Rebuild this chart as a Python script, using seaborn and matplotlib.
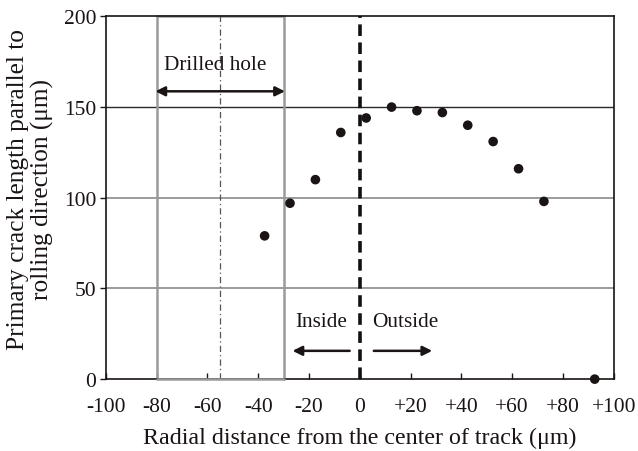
import matplotlib
matplotlib.use("Agg")
import matplotlib.pyplot as plt
import seaborn as sns
import pandas as pd

# Data
radial_distance = [-37.5, -27.5, -17.5, -7.5, 2.5, 12.5, 22.5, 32.5, 42.5, 52.5, 62.5, 72.5, 92.5]
crack_length = [79, 97, 110, 136, 144, 150, 148, 147, 140, 131, 116, 98, 0]
x_ticks = [-100, -80, -60, -40, -20, 0, 20, 40, 60, 80, 100]
x_tick_labels = ["-100", "-80", "-60", "-40", "-20", "0", "+20", "+40", "+60", "+80", "+100"]
y_ticks = [0, 50, 100, 150, 200]

sns.set_theme(style="white")
plt.rcParams["font.family"] = ["Liberation Serif", "DejaVu Serif"]

fig = plt.figure(figsize=(6.38, 4.52), dpi=100)
ax = fig.add_axes([0.166, 0.159, 0.796, 0.8025])

df = pd.DataFrame({"x": radial_distance, "y": crack_length})

# gridlines
ax.axhline(150, color="#2a2a2a", lw=1.0, zorder=1)
ax.axhline(100, color="#8a8a8a", lw=1.2, zorder=1)
ax.axhline(50, color="#8a8a8a", lw=1.2, zorder=1)

# drilled hole rectangle
ax.plot([-80, -80, -30, -30], [0, 200, 200, 0], color="#9a9a9a", lw=1.8, zorder=2, clip_on=False)
ax.plot([-80, -30], [0, 0], color="#9a9a9a", lw=1.8, zorder=3, clip_on=False)
ax.axvline(-55, color="#555555", lw=0.9, ls=(0, (5, 2.5, 1, 2.5)), zorder=2)

# center line
ax.axvline(0, color="#111111", lw=2.6, ls=(0, (3.2, 1.8)), zorder=3)

sns.scatterplot(data=df, x="x", y="y", ax=ax, color="#1a1414", s=48,
                edgecolor="none", zorder=5, clip_on=False, legend=False)

# annotations
ax.annotate("", xy=(-80.5, 158.7), xytext=(-29.5, 158.7),
            arrowprops=dict(arrowstyle="<|-|>", color="#1a1414", lw=1.8,
                            mutation_scale=14, shrinkA=0, shrinkB=0))
ax.text(-57, 173.5, "Drilled hole", ha="center", va="center", fontsize=15.3, color="#1a1414")

ax.annotate("", xy=(-26.5, 15.6), xytext=(-4, 15.6),
            arrowprops=dict(arrowstyle="-|>", color="#1a1414", lw=1.8,
                            mutation_scale=14, shrinkA=0, shrinkB=0))
ax.annotate("", xy=(28.5, 15.6), xytext=(5.5, 15.6),
            arrowprops=dict(arrowstyle="-|>", color="#1a1414", lw=1.8,
                            mutation_scale=14, shrinkA=0, shrinkB=0))
ax.text(-15.2, 31.6, "Inside", ha="center", va="center", fontsize=15.3, color="#1a1414")
ax.text(17.8, 31.6, "Outside", ha="center", va="center", fontsize=15.3, color="#1a1414")

ax.set_xlim(-100, 100)
ax.set_ylim(0, 200)
ax.set_xticks(x_ticks)
ax.set_xticklabels(x_tick_labels)
ax.set_yticks(y_ticks)

for s in ax.spines.values():
    s.set_color("#1a1414")
    s.set_linewidth(1.2)

ax.tick_params(axis="x", direction="in", length=4, width=1, colors="#1a1414",
               labelsize=15.5, pad=13, bottom=True)
ax.tick_params(axis="y", direction="out", length=4, width=1, colors="#1a1414",
               labelsize=15.5, pad=3, left=True)

ax.set_xlabel("Radial distance from the center of track (μm)", fontsize=17.3,
              color="#1a1414", labelpad=8)
ax.set_ylabel("Primary crack length parallel to\nrolling direction (μm)", fontsize=18.3,
              color="#1a1414", labelpad=4, linespacing=1.1)
ax.yaxis.set_label_coords(-0.103, 0.525)

fig.savefig("out.png", dpi=100)
